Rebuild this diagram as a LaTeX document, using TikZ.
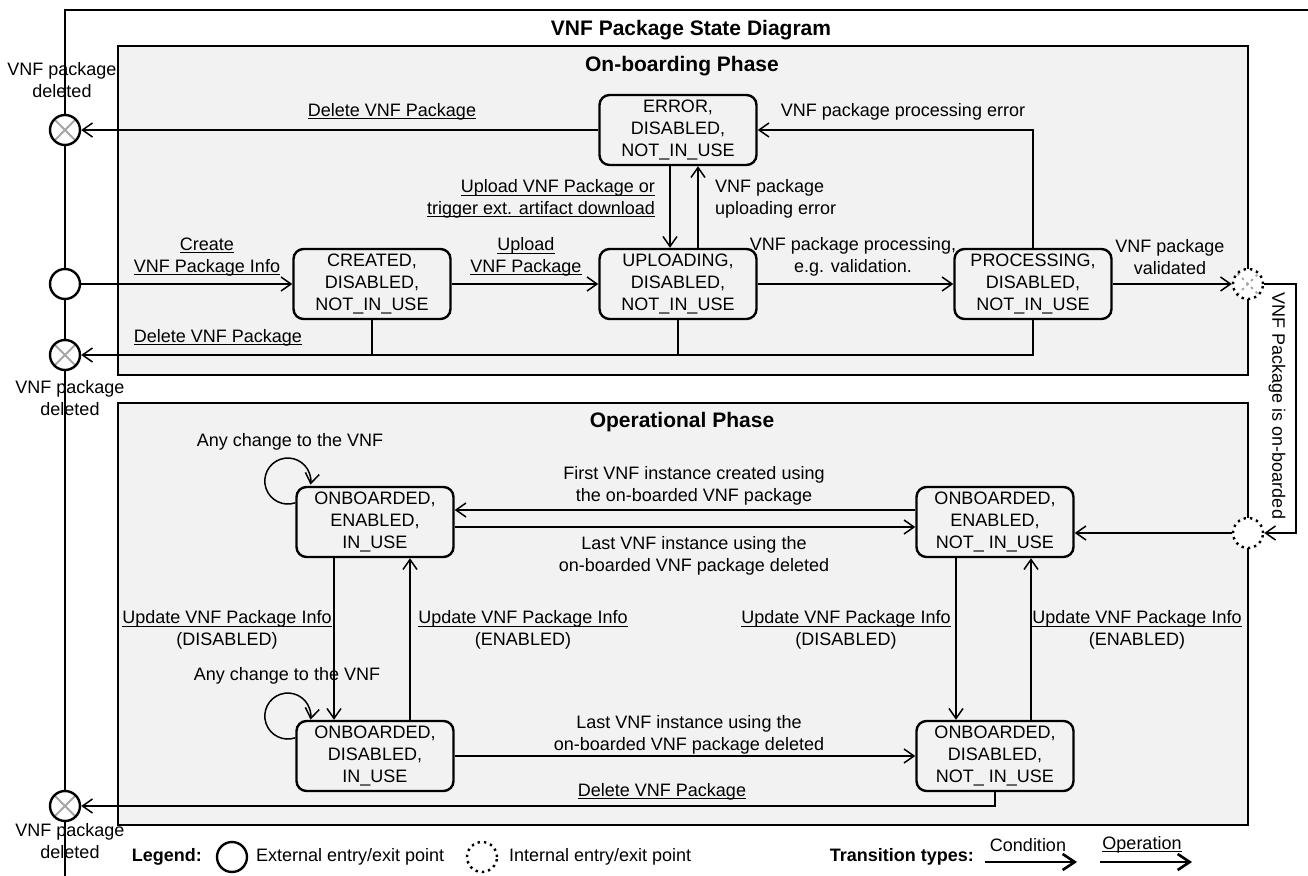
\documentclass[tikz,border=0pt]{standalone}
\usepackage{fontspec}
\setmainfont{Liberation Sans}
\usetikzlibrary{arrows.meta}

\newsavebox{\ulbox}
\newcommand{\ulop}[1]{\sbox{\ulbox}{#1}\rlap{\rule[-1.3pt]{\wd\ulbox}{0.45pt}}\usebox{\ulbox}}

\begin{document}
\begin{tikzpicture}[
  x=0.5pt,y=-0.5pt,
  font=\fontsize{9}{10.8}\selectfont,
  >={Straight Barb[length=5pt,width=7pt]},
  phase/.style={draw,fill=black!5,line width=0.75pt},
  head/.style={font=\fontsize{10.5}{12}\selectfont\bfseries},
  keyword/.style={font=\fontsize{9}{10.8}\selectfont\bfseries},
  state/.style={draw,rounded corners=5pt,line width=1.2pt,fill=black!5,
    minimum width=78.5pt,minimum height=35pt,inner sep=1pt,align=center},
  extpt/.style={circle,draw,line width=1.2pt,fill=white,minimum size=15pt,inner sep=0pt},
  intpt/.style={extpt,dotted},
  gone/.style={path picture={\draw[black!35,line width=1pt]
    (path picture bounding box.south west) -- (path picture bounding box.north east)
    (path picture bounding box.north west) -- (path picture bounding box.south east);}},
  link/.style={line width=0.75pt},
  flow/.style={link,->},
  key/.style={line width=1.3pt,-{Straight Barb[length=6pt,width=8pt]}},
  lbl/.style={align=center}
]
  \useasboundingbox (0,0) rectangle (1308,876);
  \draw[link] (65,876) -- (65,10) -- (1308,10);
  \draw[phase] (118,46) rectangle (1248,375);
  \draw[phase] (118,403) rectangle (1248,825);

  \node[head] (title) at (691,30) {VNF Package State Diagram};
  \node[head] (onbhead) at (682,66) {On-boarding Phase};
  \node[head] (ophead) at (682,422) {Operational Phase};

  \node[extpt,gone] (del1) at (65,130) {};
  \node[extpt] (entry) at (65,284) {};
  \node[extpt,gone] (del2) at (65,355) {};
  \node[extpt,gone] (del3) at (65,806) {};
  \node[intpt,gone] (exitint) at (1248,284) {};
  \node[intpt] (entryint) at (1248,533) {};
  \node[lbl] (ldel1) at (62,80) {VNF package\\deleted};
  \node[lbl] (ldel2) at (70,398) {VNF package\\deleted};
  \node[lbl] (ldel3) at (70,841) {VNF package\\deleted};

  \node[state] (error) at (678,130) {ERROR,\\DISABLED,\\NOT\_IN\_USE};
  \node[state] (created) at (372,284) {CREATED,\\DISABLED,\\NOT\_IN\_USE};
  \node[state] (uploading) at (678,284) {UPLOADING,\\DISABLED,\\NOT\_IN\_USE};
  \node[state] (processing) at (1033,284) {PROCESSING,\\DISABLED,\\NOT\_IN\_USE};
  \node[state] (onEnIn) at (375,522) {ONBOARDED,\\ENABLED,\\IN\_USE};
  \node[state] (onEnNot) at (995,522) {ONBOARDED,\\ENABLED,\\NOT\_ IN\_USE};
  \node[state] (onDisIn) at (375,756) {ONBOARDED,\\DISABLED,\\IN\_USE};
  \node[state] (onDisNot) at (995,756) {ONBOARDED,\\DISABLED,\\NOT\_ IN\_USE};

  \draw[flow] (error.west) -- (del1);
  \node (lerrdel) at (392,112) {\ulop{Delete VNF Package}};
  \draw[flow] (entry) -- (created);
  \node[lbl] (lcreate) at (207,257) {\ulop{Create}\\\ulop{VNF Package Info}};
  \draw[flow] (created) -- (uploading);
  \node[lbl] (lupload) at (526,257) {\ulop{Upload}\\\ulop{VNF Package}};
  \draw[flow] (uploading) -- (processing);
  \node[lbl] (lprocess) at (853,257) {VNF package processing,\\e.g. validation.};
  \draw[flow] (processing) -- (exitint);
  \node[lbl] (lvalid) at (1170,257) {VNF package\\validated};
  \draw[flow] (processing.north) |- (error.east);
  \node (lprocerr) at (903,112) {VNF package processing error};
  \draw[flow] ([xshift=-4pt]error.south) -- ([xshift=-4pt]uploading.north);
  \draw[flow] ([xshift=10pt]uploading.north) -- ([xshift=10pt]error.south);
  \node[align=right,anchor=east] (lretry) at (662,199) {\ulop{Upload VNF Package or}\\\ulop{trigger ext. artifact download}};
  \node[align=left,anchor=west] (luperr) at (708,199) {VNF package\\uploading error};

  \draw[flow] (processing.south) |- (del2);
  \draw[link] (uploading.south) -- (uploading.south |- del2);
  \draw[link] (created.south) -- (created.south |- del2);
  \node (lonbdel) at (218,338) {\ulop{Delete VNF Package}};

  \coordinate (turn) at (1296,284);
  \draw[flow] (exitint) -- (turn) |- (entryint);
  \node[rotate=-90] (lonboarded) at (1277,406) {VNF Package is on-boarded};
  \draw[flow] (entryint) -- (entryint -| onEnNot.east);

  \draw[flow] ([yshift=6pt]onEnNot.west) -- ([yshift=6pt]onEnIn.east);
  \node[lbl] (lfirst) at (694,486) {First VNF instance created using\\the on-boarded VNF package};
  \draw[flow] ([yshift=-2.5pt]onEnIn.east) -- ([yshift=-2.5pt]onEnNot.west);
  \node[lbl] (llast1) at (694,556) {Last VNF instance using the\\on-boarded VNF package deleted};

  \draw[flow] ([xshift=-20.5pt]onEnIn.south) -- ([xshift=-20.5pt]onDisIn.north);
  \draw[flow] ([xshift=17.5pt]onDisIn.north) -- ([xshift=17.5pt]onEnIn.south);
  \draw[flow] ([xshift=-19.5pt]onEnNot.south) -- ([xshift=-19.5pt]onDisNot.north);
  \draw[flow] ([xshift=18pt]onDisNot.north) -- ([xshift=18pt]onEnNot.south);
  \node[lbl] (ldis1) at (227,630) {\ulop{Update VNF Package Info}\\(DISABLED)};
  \node[lbl] (len1) at (523,630) {\ulop{Update VNF Package Info}\\(ENABLED)};
  \node[lbl] (ldis2) at (846,630) {\ulop{Update VNF Package Info}\\(DISABLED)};
  \node[lbl] (len2) at (1137,630) {\ulop{Update VNF Package Info}\\(ENABLED)};

  \draw[flow] (onDisIn) -- (onDisNot);
  \node[lbl] (llast2) at (689,735) {Last VNF instance using the\\on-boarded VNF package deleted};
  \draw[flow] (onDisNot.south) |- (del3);
  \node (lopdel) at (662,792) {\ulop{Delete VNF Package}};

  \draw[flow] ([yshift=-8.5pt]onEnIn.north west) arc[start angle=-71,end angle=-369,radius=11.5pt];
  \node (lany1) at (290,442) {Any change to the VNF};
  \draw[flow] ([yshift=-9pt]onDisIn.north west) arc[start angle=-71,end angle=-369,radius=11.5pt];
  \node (lany2) at (287,676) {Any change to the VNF};

  \node[keyword,anchor=east] (legend) at (209,857) {Legend:};
  \node[extpt] (legext) at (232,857) {};
  \node[anchor=west] (lext) at (249,857) {External entry/exit point};
  \node[intpt] (legint) at (482,857) {};
  \node[anchor=west] (lint) at (502,857) {Internal entry/exit point};
  \node[keyword,anchor=east] (ttypes) at (981,857) {Transition types:};
  \coordinate (cond0) at (985,862);
  \coordinate (cond1) at (1077,862);
  \draw[key] (cond0) -- (cond1);
  \node (lcond) at (1028,845) {Condition};
  \coordinate (oper0) at (1100,862);
  \coordinate (oper1) at (1192,862);
  \draw[key] (oper0) -- (oper1);
  \node (loper) at (1142,845) {\ulop{Operation}};
\end{tikzpicture}
\end{document}
